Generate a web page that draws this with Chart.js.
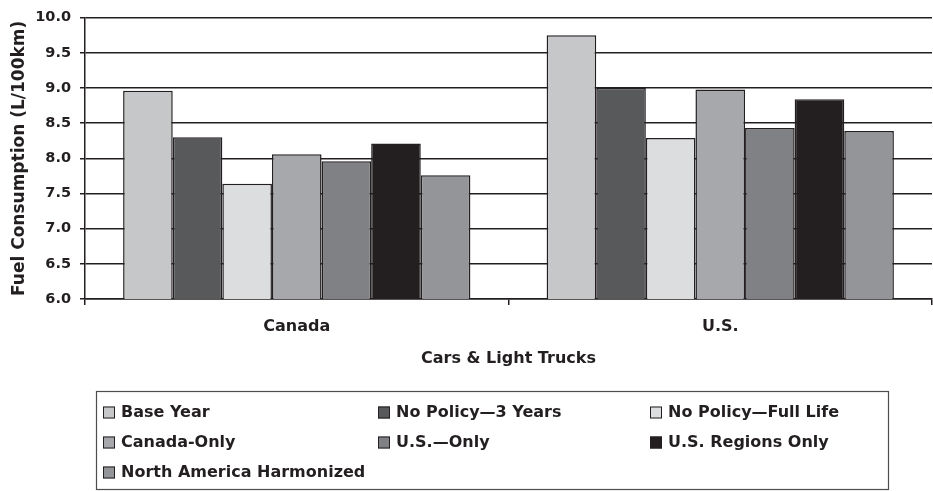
<!DOCTYPE html>
<html>
<head>
<meta charset="utf-8">
<title>Fuel Consumption — Cars &amp; Light Trucks</title>
<script src="https://cdn.jsdelivr.net/npm/chart.js@4.4.1/dist/chart.umd.min.js"></script>
<style>
  html, body { margin: 0; padding: 0; background: #ffffff; }
  #wrap { width: 933px; height: 491px; }
</style>
</head>
<body>
<div id="wrap"><canvas id="chart" width="933" height="491"></canvas></div>
<script>
// Groups on the category axis
const categories = ['Canada', 'U.S.'];

// Scenario names, in legend order
const seriesNames = [
  'Base Year',
  'No Policy\u20143 Years',
  'No Policy\u2014Full Life',
  'Canada-Only',
  'U.S.\u2014Only',
  'U.S. Regions Only',
  'North America Harmonized'
];

// Fuel consumption (L/100km) per scenario: [Canada, U.S.]
const baseYear      = [8.96, 9.75];
const noPolicy3     = [8.30, 9.00];
const noPolicyFull  = [7.64, 8.29];
const canadaOnly    = [8.06, 8.98];
const usOnly        = [7.96, 8.43];
const usRegions     = [8.21, 8.84];
const naHarmonized  = [7.76, 8.39];

// Value axis range and tick step
const yMin = 6.0;
const yMax = 10.0;
const yStep = 0.5;

// Axis titles
const yTitle = 'Fuel Consumption (L/100km)';
const xTitle = 'Cars & Light Trucks';

// Grey shades for each scenario
const fills = ['#c6c7c9', '#58595b', '#dcdddf', '#a7a8ab', '#808184', '#231f20', '#939598'];
const ink = '#231f20';
const FONT = '"DejaVu Sans", "Liberation Sans", Arial, sans-serif';

const seriesValues = [baseYear, noPolicy3, noPolicyFull, canadaOnly, usOnly, usRegions, naHarmonized];

const datasets = seriesNames.map((name, i) => ({
  label: name,
  data: seriesValues[i],
  backgroundColor: fills[i],
  borderColor: ink,
  borderWidth: 1.5,
  borderSkipped: 'bottom',
  categoryPercentage: 0.82,
  barPercentage: 1.0
}));

// Boxed three-column legend under the axis title
const boxedLegend = {
  id: 'boxedLegend',
  afterDraw(chart) {
    const ctx = chart.ctx;
    const box = { left: 96.5, top: 391.5, right: 888.5, bottom: 489.5 };
    const colX = [103, 378, 650];
    const rowY = [412.5, 442.5, 472.5];
    ctx.save();
    ctx.strokeStyle = '#4d4d4f';
    ctx.lineWidth = 1.2;
    ctx.strokeRect(box.left, box.top, box.right - box.left, box.bottom - box.top);
    ctx.font = 'bold 16px ' + FONT;
    ctx.textBaseline = 'middle';
    ctx.textAlign = 'left';
    chart.data.datasets.forEach((ds, i) => {
      const col = i % 3;
      const row = Math.floor(i / 3);
      const x = colX[col];
      const y = rowY[row];
      ctx.fillStyle = ds.backgroundColor;
      ctx.fillRect(x, y - 6, 12, 12);
      ctx.strokeStyle = ink;
      ctx.lineWidth = 1;
      ctx.strokeRect(x + 0.5, y - 5.5, 11, 11);
      ctx.fillStyle = ink;
      ctx.fillText(ds.label, x + 18, y + 0.5);
    });
    ctx.restore();
  }
};

Chart.defaults.font.family = FONT;
Chart.defaults.font.weight = 'bold';
Chart.defaults.color = ink;

new Chart(document.getElementById('chart'), {
  type: 'bar',
  data: { labels: categories, datasets: datasets },
  options: {
    responsive: false,
    animation: false,
    devicePixelRatio: 1,
    layout: { padding: { top: 15, right: 1, bottom: 120, left: 0 } },
    plugins: {
      legend: { display: false },
      tooltip: { enabled: false }
    },
    scales: {
      x: {
        offset: true,
        grid: {
          display: true,
          offset: true,
          drawOnChartArea: false,
          drawTicks: true,
          tickLength: 6,
          color: ink,
          lineWidth: 1.5
        },
        border: { display: true, color: ink, width: 1.5 },
        ticks: { font: { size: 16, weight: 'bold' }, padding: 12, color: ink, maxRotation: 0 },
        title: {
          display: true,
          text: xTitle,
          font: { size: 16, weight: 'bold' },
          color: ink,
          padding: { top: 0, bottom: 2.4 }
        },
        afterFit(scale) { scale.height = 72; }
      },
      y: {
        min: yMin,
        max: yMax,
        grid: {
          color: ink,
          lineWidth: 1.5,
          drawTicks: true,
          tickLength: 5
        },
        border: { display: true, color: ink, width: 1.5 },
        ticks: {
          stepSize: yStep,
          font: { size: 14.5, weight: 'bold' },
          padding: 9,
          color: ink,
          callback: (v) => Number(v).toFixed(1)
        },
        title: {
          display: true,
          text: yTitle,
          font: { size: 17, weight: 'bold' },
          color: ink,
          padding: { top: 9, bottom: 0 }
        },
        afterFit(scale) { scale.width = 85; }
      }
    }
  },
  plugins: [boxedLegend]
});
</script>
</body>
</html>
